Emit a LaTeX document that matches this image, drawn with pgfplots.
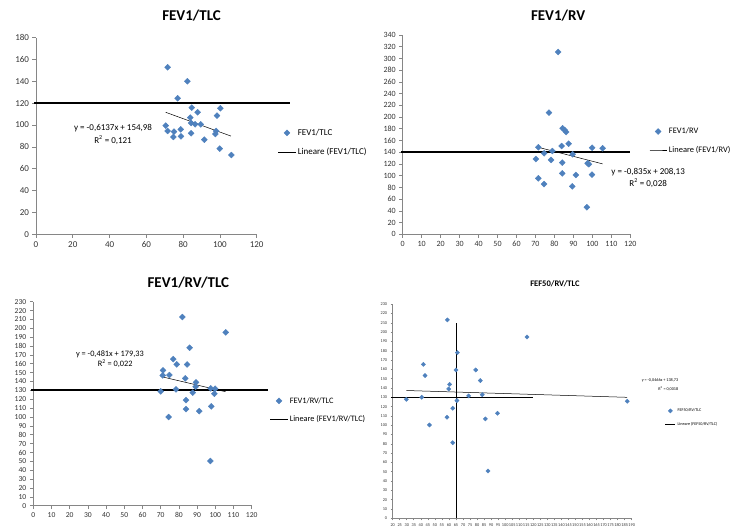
\documentclass[border=0pt]{standalone}
\usepackage{fontspec}
\setmainfont{Carlito}
\usepackage{pgfplots}
\pgfplotsset{compat=1.18}
\definecolor{ser}{RGB}{79,129,189}
\definecolor{axg}{RGB}{134,134,134}
\pgfplotsset{
  xl/.style={scale only axis, anchor=south west, axis lines=left,
    axis line style={-,draw=axg,line width=0.7pt},
    tick style={draw=axg,line width=0.6pt}, tick align=outside, major tick length=3.5pt,
    clip=false, enlargelimits=false,
    /pgf/number format/assume math mode=true, /pgf/number format/1000 sep={},
    tick label style={text=black!80},
    legend cell align=left,
    legend style={draw=none, fill=none, anchor=west, inner sep=0pt, row sep=7pt}},
  dots/.style={only marks, mark=square*, mark size=#1, mark options={rotate=45, fill=ser, draw=ser}},
}
\begin{document}
\begin{tikzpicture}
\path[use as bounding box] (0pt,0pt) rectangle (733pt,531pt);
% ---------- Panel 1 ----------
\begin{axis}[xl, at={(36pt,296.7pt)}, width=220.7pt, height=196.6pt,
  xmin=0, xmax=120, ymin=0, ymax=180, xtick={0,20,...,120}, ytick={0,20,...,180},
  tick label style={font=\fontsize{9}{10}\selectfont},
  legend style={at={(axis description cs:1.0965,0.467)}, font=\fontsize{9}{10}\selectfont}]
\addplot[dots=2.1pt] coordinates {
(71.6,152.9) (82.3,140.1) (77.0,124.5) (84.7,115.9) (100.2,115.4) (87.9,111.7)
(98.4,108.6) (83.9,106.8) (84.3,101.9) (86.5,100.7) (89.6,100.7) (70.5,99.5)
(71.6,94.6) (75.0,94.0) (78.7,96.1) (74.7,89.1) (78.8,89.7) (84.3,92.5)
(91.5,86.6) (97.9,94.6) (97.5,91.8) (99.9,78.4) (106.2,72.6)};
\addplot[black, line width=0.5pt] coordinates {(70.5,111.71) (106,89.93)};
\addplot[black, line width=1.6pt, forget plot] coordinates {(-1,120) (138,120)};
\legend{FEV1/TLC, Lineare (FEV1/TLC)}
\node[font=\bfseries\fontsize{15}{17}\selectfont] at (axis description cs:0.705,1.11) {FEV1/TLC};
\node[font=\fontsize{9}{10}\selectfont] at (axis cs:41.9,97.6) {y = -0,6137x + 154,98};
\node[font=\fontsize{9}{10}\selectfont] at (axis cs:41.9,86.4) {R\textsuperscript{2} = 0,121};
\end{axis}
% ---------- Panel 2 ----------
\begin{axis}[xl, at={(402.7pt,296.7pt)}, width=227.6pt, height=199.3pt,
  xmin=0, xmax=120, ymin=0, ymax=340, xtick={0,10,...,120}, ytick={0,20,...,340},
  tick label style={font=\fontsize{8}{9}\selectfont},
  legend style={at={(axis description cs:1.083,0.469)}, font=\fontsize{8.4}{9.5}\selectfont}]
\addplot[dots=2.1pt] coordinates {
(82.0,311.0) (77.1,207.5) (84.3,180.8) (85.4,177.9) (86.2,174.5) (87.5,154.6)
(83.8,150.6) (99.9,147.7) (105.4,146.7) (71.5,148.4) (78.9,142.1) (74.6,138.2)
(89.6,136.5) (70.2,128.4) (78.2,126.8) (84.1,122.2) (97.5,121.1) (98.2,119.5)
(84.1,104.0) (91.3,101.2) (99.8,101.7) (71.5,95.5) (74.5,85.8) (89.4,81.9) (97.1,46.0)};
\addplot[black, line width=0.5pt] coordinates {(71.5,148.43) (105.4,120.12)};
\addplot[black, line width=1.6pt, forget plot] coordinates {(-1,140) (120,140)};
\legend{FEV1/RV, Lineare (FEV1/RV)}
\node[font=\bfseries\fontsize{15}{17}\selectfont] at (axis description cs:0.683,1.095) {FEV1/RV};
\node[font=\fontsize{9}{10}\selectfont] at (axis cs:129.4,105.8) {y = -0,835x + 208,13};
\node[font=\fontsize{9}{10}\selectfont] at (axis cs:129.4,88.0) {R\textsuperscript{2} = 0,028};
\end{axis}
% ---------- Panel 3 ----------
\begin{axis}[xl, at={(33.3pt,25.3pt)}, width=218.4pt, height=204pt,
  xmin=0, xmax=120, ymin=0, ymax=230, xtick={0,10,...,120}, ytick={0,10,...,230},
  tick label style={font=\fontsize{7.6}{8}\selectfont},
  legend style={at={(axis description cs:1.084,0.468)}, font=\fontsize{8.3}{9}\selectfont}]
\addplot[dots=2.1pt] coordinates {
(81.9,212.7) (105.7,195.4) (85.9,178.1) (76.9,165.3) (78.8,159.3) (84.5,159.3)
(71.3,152.6) (71.1,146.9) (74.8,147.3) (83.5,143.6) (89.4,139.0) (89.2,134.2)
(97.5,132.3) (99.9,131.9) (78.4,131.2) (70.0,128.9) (87.6,127.4) (99.5,126.3)
(83.9,119.1) (83.9,109.0) (91.2,106.7) (97.8,112.0) (74.4,100.0) (97.3,50.4)};
\addplot[black, line width=0.5pt] coordinates {(70.0,145.66) (105.7,128.49)};
\addplot[black, line width=1.8pt, forget plot] coordinates {(-1,130) (128.8,130)};
\legend{FEV1/RV/TLC, Lineare (FEV1/RV/TLC)}
\node[font=\bfseries\fontsize{15}{17}\selectfont] at (axis description cs:0.71,1.095) {FEV1/RV/TLC};
\node[font=\fontsize{8.3}{9}\selectfont] at (axis cs:42.1,170.7) {y = -0,481x + 179,33};
\node[font=\fontsize{8.3}{9}\selectfont] at (axis cs:45,159.7) {R\textsuperscript{2} = 0,022};
\end{axis}
% ---------- Panel 4 ----------
\begin{axis}[xl, at={(392.7pt,12.7pt)}, width=239pt, height=214pt,
  xmin=20, xmax=190, ymin=0, ymax=230, xtick={20,25,...,190}, ytick={0,10,...,230},
  major tick length=2pt,
  tick label style={font=\fontsize{4.3}{5}\selectfont},
  legend image code/.code={\draw[mark repeat=2,mark phase=2,#1] plot coordinates {(0pt,0pt) (5pt,0pt) (10pt,0pt)};},
  legend style={at={(axis description cs:1.139,0.470)}, font=\fontsize{4.2}{5}\selectfont, row sep=5pt}]
\addplot[dots=1.5pt] coordinates {
(58.9,213.2) (115.5,194.9) (66.0,178.1) (41.8,165.5) (43.0,153.4) (65.0,159.4)
(79.0,159.4) (82.3,148.0) (60.5,144.0) (59.8,139.0) (83.7,132.9) (74.0,131.5)
(40.6,130.1) (29.7,127.9) (65.7,126.5) (186.8,125.8) (62.7,118.2) (94.6,112.9)
(58.6,108.6) (85.9,106.8) (46.1,100.3) (62.7,81.3) (87.8,50.9)};
\addplot[black, line width=0.5pt] coordinates {(29.7,137.35) (186.8,130.03)};
\addplot[black, line width=1.4pt, forget plot] coordinates {(19,130) (120,130)};
\addplot[black, line width=0.6pt, forget plot] coordinates {(65,0) (65,210)};
\legend{FEF50/RV/TLC, Lineare (FEF50/RV/TLC)}
\node[font=\bfseries\fontsize{8.5}{10}\selectfont] at (axis description cs:0.679,1.095) {FEF50/RV/TLC};
\node[font=\fontsize{4.2}{5}\selectfont] at (axis cs:210.1,148.7) {y = -0,0466x + 138,73};
\node[font=\fontsize{4.2}{5}\selectfont] at (axis cs:216,138.7) {R\textsuperscript{2} = 0,0018};
\end{axis}
\end{tikzpicture}
\end{document}
